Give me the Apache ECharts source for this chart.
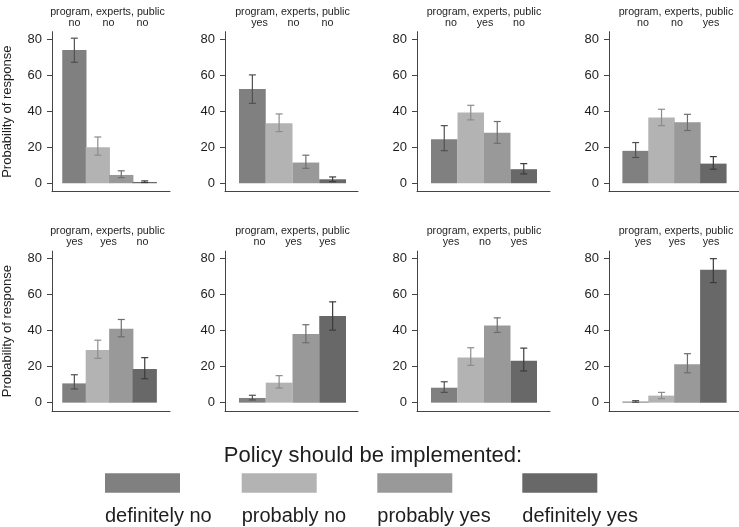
<!DOCTYPE html>
<html><head><meta charset="utf-8">
<script src="https://cdn.jsdelivr.net/npm/echarts@6/dist/echarts.min.js"></script>
<style>html,body{margin:0;padding:0;background:#fff}#c{width:739px;height:527px}</style>
</head><body><div id="c"></div>
<script>
// ---- data ----
const responses = ['definitely no', 'probably no', 'probably yes', 'definitely yes'];
const titleLine1 = 'program, experts, public';
const panelConditions = [
  ['no', 'no', 'no'], ['yes', 'no', 'no'], ['no', 'yes', 'no'], ['no', 'no', 'yes'],
  ['yes', 'yes', 'no'], ['no', 'yes', 'yes'], ['yes', 'no', 'yes'], ['yes', 'yes', 'yes']
];
const yTicks = [0, 20, 40, 60, 80];
const estimates = [
  [74.1, 20.0, 4.6, 0.7],
  [52.4, 33.3, 11.5, 2.2],
  [24.4, 39.3, 28.1, 7.8],
  [18.0, 36.5, 33.9, 10.9],
  [10.7, 29.2, 41.0, 18.7],
  [2.6, 11.1, 38.1, 48.1],
  [8.3, 25.1, 42.9, 23.3],
  [0.6, 3.9, 21.4, 73.9]
];
const ciLower = [
  [67.2, 15.6, 3.1, 0.4],
  [44.4, 28.7, 8.3, 0.9],
  [18.1, 35.2, 22.2, 5.2],
  [14.3, 32.0, 29.3, 7.8],
  [7.6, 24.6, 36.6, 13.3],
  [1.5, 8.1, 33.3, 40.3],
  [5.7, 20.7, 39.0, 17.6],
  [0.2, 2.2, 16.6, 66.7]
];
const ciUpper = [
  [80.6, 25.7, 6.9, 1.3],
  [60.2, 38.5, 15.6, 3.5],
  [32.0, 43.3, 34.3, 10.9],
  [22.6, 41.1, 38.3, 14.8],
  [15.5, 34.7, 46.2, 25.0],
  [4.1, 15.0, 43.3, 56.0],
  [11.6, 30.5, 47.1, 30.3],
  [1.1, 5.7, 27.2, 80.0]
];

// ---- style / layout ----
const barColors = ['#808080', '#b3b3b3', '#999999', '#686868'];
const errColors = ['#505050', '#8c8c8c', '#6e6e6e', '#3c3c3c'];
const FONT = '"Liberation Sans", Arial, sans-serif';
const TXT = '#1e1e1e';
const cols = [
  { axis: 48, barL: 59, barR: 156, end: 170 },
  { axis: 225, barL: 239, barR: 346, end: 358 },
  { axis: 417, barL: 431, barR: 537, end: 550 },
  { axis: 609, barL: 623, barR: 729, end: 742 }
];
const rowTops = [31.7, 251.1];
const gridH = 160;
const yMin = -4.7, yMax = 84.2;

const grids = [], xAxes = [], yAxes = [], series = [], graphics = [];
for (let i = 0; i < 8; i++) {
  const r = Math.floor(i / 4), c = i % 4, L = cols[c];
  const unit = (L.barR - L.barL) / 4;
  grids.push({ left: L.axis, top: rowTops[r], width: L.end - L.axis, height: gridH });
  xAxes.push({
    type: 'value', gridIndex: i,
    min: 0.5 - (L.barL - L.axis) / unit, max: 4.5 + (L.end - L.barR) / unit,
    axisLine: { show: true, onZero: false, lineStyle: { color: '#444', width: 1 } },
    axisTick: { show: false }, axisLabel: { show: false }, splitLine: { show: false }
  });
  yAxes.push({
    type: 'value', gridIndex: i, min: yMin, max: yMax,
    axisLine: { show: true, onZero: false, lineStyle: { color: '#444', width: 1 } },
    axisTick: { show: true, customValues: yTicks, length: 5, lineStyle: { color: '#444' } },
    axisLabel: { show: true, customValues: yTicks, margin: 10, fontSize: 13, color: TXT, fontFamily: FONT },
    splitLine: { show: false },
    name: c === 0 ? 'Probability of response' : '',
    nameLocation: 'middle', nameGap: 38, nameRotate: 90,
    nameTextStyle: { fontSize: 13, color: TXT, fontFamily: FONT }
  });
  series.push({
    type: 'bar', xAxisIndex: i, yAxisIndex: i, barWidth: unit, silent: true,
    data: estimates[i].map((v, k) => ({ value: [k + 1, v], itemStyle: { color: barColors[k] } }))
  });
  series.push({
    type: 'custom', xAxisIndex: i, yAxisIndex: i, silent: true, z: 5,
    data: estimates[i].map((v, k) => [k + 1, ciLower[i][k], ciUpper[i][k], k]),
    renderItem: function (params, api) {
      const x = api.value(0), lo = api.coord([x, api.value(1)]), hi = api.coord([x, api.value(2)]);
      const col = errColors[api.value(3)], w = 3.5;
      const st = { stroke: col, lineWidth: 1.2 };
      return { type: 'group', children: [
        { type: 'line', shape: { x1: lo[0], y1: lo[1], x2: hi[0], y2: hi[1] }, style: st },
        { type: 'line', shape: { x1: hi[0] - w, y1: hi[1], x2: hi[0] + w, y2: hi[1] }, style: st },
        { type: 'line', shape: { x1: lo[0] - w, y1: lo[1], x2: lo[0] + w, y2: lo[1] }, style: st }
      ] };
    }
  });
  // panel titles
  const cx = (L.barL + L.barR) / 2, t0 = rowTops[r];
  graphics.push({ type: 'text', left: 0, top: 0, x: cx, y: t0 - 20, silent: true,
    style: { text: titleLine1, fontSize: 10.7, fontFamily: FONT, fill: TXT, align: 'center', verticalAlign: 'middle' } });
  const offs = [-33, 1, 35];
  panelConditions[i].forEach((w, k) => {
    graphics.push({ type: 'text', x: cx + offs[k], y: t0 - 9, silent: true,
      style: { text: w, fontSize: 10.7, fontFamily: FONT, fill: TXT, align: 'center', verticalAlign: 'middle' } });
  });
}
// legend
graphics.push({ type: 'text', x: 373, y: 456, silent: true,
  style: { text: 'Policy should be implemented:', fontSize: 22, fontFamily: FONT, fill: TXT, align: 'center', verticalAlign: 'middle' } });
const legX = [105, 241.7, 377.3, 522.3];
responses.forEach((name, k) => {
  graphics.push({ type: 'rect', x: legX[k], y: 473.3, shape: { width: 75, height: 19.4 }, silent: true,
    style: { fill: barColors[k] } });
  graphics.push({ type: 'text', x: legX[k], y: 516.5, silent: true,
    style: { text: name, fontSize: 20, fontFamily: FONT, fill: TXT, align: 'left', verticalAlign: 'middle' } });
});
graphics.forEach(g => { delete g.left; delete g.top; });

const chart = echarts.init(document.getElementById('c'), null, { renderer: 'canvas' });
chart.setOption({
  animation: false, backgroundColor: '#fff',
  grid: grids, xAxis: xAxes, yAxis: yAxes, series: series, graphic: graphics
});
</script></body></html>
